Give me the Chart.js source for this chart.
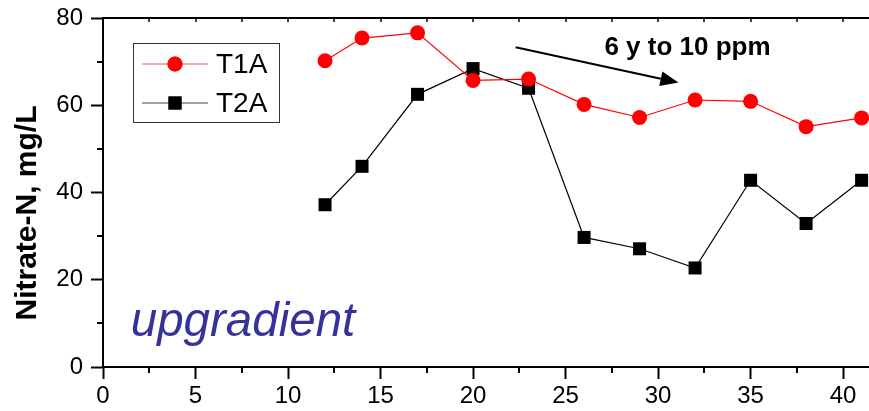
<!DOCTYPE html>
<html>
<head>
<meta charset="utf-8">
<script src="https://cdn.jsdelivr.net/npm/chart.js@4.4.0/dist/chart.umd.min.js"></script>
<style>
  html, body { margin: 0; padding: 0; background: #fff; overflow: hidden; }
  #wrap { width: 869px; height: 411px; position: relative; }
</style>
</head>
<body>
<div id="wrap"><canvas id="nitrateChart"></canvas></div>
<script>
// datos
const sampleX = [12, 14, 17, 20, 23, 26, 29, 32, 35, 38, 41];
const t1a = [70.2, 75.4, 76.6, 65.7, 66.0, 60.2, 57.2, 61.2, 60.9, 55.1, 57.1];
const t2a = [37.2, 46.0, 62.5, 68.4, 63.9, 29.7, 27.1, 22.7, 42.8, 32.9, 42.8];
const xTicks = [0, 5, 10, 15, 20, 25, 30, 35, 40];
const yTicks = [0, 20, 40, 60, 80];
const seriesNames = ['T1A', 'T2A'];
const yTitle = 'Nitrate-N, mg/L';
const arrowFrom = [22.3, 73.3];
const arrowTo = [31.1, 65.2];
const arrowLabel = '6 y to 10 ppm';
const arrowLabelAt = [27.1, 71.5];
const zoneLabel = 'upgradient';
const zoneLabelAt = [1.5, 7.0];

const FONT = 'Arial, "Liberation Sans", sans-serif';

// ejes extra: borde superior, ticks menores, leyenda y anotaciones
const extrasPlugin = {
  id: 'extras',
  afterDraw(chart) {
    const { ctx, chartArea: a, scales: { x, y } } = chart;
    ctx.save();
    ctx.strokeStyle = '#000';
    ctx.fillStyle = '#000';

    // borde superior
    ctx.lineWidth = 2;
    ctx.beginPath();
    ctx.moveTo(a.left - 1, a.top);
    ctx.lineTo(a.right + 2, a.top);
    ctx.stroke();

    // ticks menores eje x y ticks del borde superior
    ctx.lineWidth = 2;
    for (let v = 2.5; v <= 41; v += 5) {
      const px = Math.round(x.getPixelForValue(v));
      ctx.beginPath();
      ctx.moveTo(px, a.bottom);
      ctx.lineTo(px, a.bottom + 6);
      ctx.stroke();
    }
    ctx.lineWidth = 1.5;
    for (let v = 2.5; v <= 41; v += 2.5) {
      const px = Math.round(x.getPixelForValue(v));
      ctx.beginPath();
      ctx.moveTo(px, a.top);
      ctx.lineTo(px, a.top + 4);
      ctx.stroke();
    }
    // ticks menores eje y
    ctx.lineWidth = 2;
    for (let v = 10; v < 80; v += 20) {
      const py = Math.round(y.getPixelForValue(v));
      ctx.beginPath();
      ctx.moveTo(a.left, py);
      ctx.lineTo(a.left - 6, py);
      ctx.stroke();
    }

    // titulo eje y
    ctx.save();
    ctx.translate(28, 213);
    ctx.rotate(-Math.PI / 2);
    ctx.font = 'bold 30px ' + FONT;
    ctx.textAlign = 'center';
    ctx.textBaseline = 'middle';
    ctx.fillText(yTitle, 0, 0);
    ctx.restore();

    // leyenda
    ctx.lineWidth = 1;
    ctx.strokeStyle = '#333';
    ctx.strokeRect(133.5, 43.5, 146, 79);
    const rows = [
      { y: 64, color: '#ff0000', line: '#ff5555', style: 'circle', r: 7.5 },
      { y: 103, color: '#000000', line: '#444444', style: 'rect', r: 9.2 }
    ];
    rows.forEach((row, i) => {
      ctx.strokeStyle = row.line;
      ctx.lineWidth = 1;
      ctx.beginPath();
      ctx.moveTo(142, row.y);
      ctx.lineTo(208, row.y);
      ctx.stroke();
      ctx.fillStyle = row.color;
      Chart.helpers.drawPoint(ctx, { pointStyle: row.style, radius: row.r, borderWidth: 0, rotation: 0 }, 175, row.y);
      ctx.fill();
      ctx.fillStyle = '#000';
      ctx.font = '28px ' + FONT;
      ctx.textAlign = 'left';
      ctx.textBaseline = 'middle';
      ctx.fillText(seriesNames[i], 216, row.y + 1);
    });

    // flecha
    const x1 = x.getPixelForValue(arrowFrom[0]), y1 = y.getPixelForValue(arrowFrom[1]);
    const x2 = x.getPixelForValue(arrowTo[0]), y2 = y.getPixelForValue(arrowTo[1]);
    const ang = Math.atan2(y2 - y1, x2 - x1);
    const headLen = 18, headHalf = 7.5;
    const bx = x2 - headLen * Math.cos(ang), by = y2 - headLen * Math.sin(ang);
    ctx.strokeStyle = '#000';
    ctx.lineWidth = 2.2;
    ctx.beginPath();
    ctx.moveTo(x1, y1);
    ctx.lineTo(bx, by);
    ctx.stroke();
    ctx.fillStyle = '#000';
    ctx.beginPath();
    ctx.moveTo(x2, y2);
    ctx.lineTo(bx + headHalf * Math.sin(ang), by - headHalf * Math.cos(ang));
    ctx.lineTo(bx - headHalf * Math.sin(ang), by + headHalf * Math.cos(ang));
    ctx.closePath();
    ctx.fill();

    // textos
    ctx.textAlign = 'left';
    ctx.textBaseline = 'alphabetic';
    ctx.font = 'bold 26px ' + FONT;
    ctx.fillText(arrowLabel, x.getPixelForValue(arrowLabelAt[0]), y.getPixelForValue(arrowLabelAt[1]));
    ctx.fillStyle = '#333399';
    ctx.font = 'italic 47.5px ' + FONT;
    ctx.fillText(zoneLabel, x.getPixelForValue(zoneLabelAt[0]), y.getPixelForValue(zoneLabelAt[1]));

    ctx.restore();
  }
};

const ctx = document.getElementById('nitrateChart');
new Chart(ctx, {
  type: 'line',
  data: {
    datasets: [
      {
        label: seriesNames[0],
        data: sampleX.map((v, i) => ({ x: v, y: t1a[i] })),
        borderColor: '#ff0000',
        backgroundColor: '#ff0000',
        borderWidth: 1.2,
        pointStyle: 'circle',
        pointRadius: 7.5,
        pointBorderWidth: 0,
        tension: 0
      },
      {
        label: seriesNames[1],
        data: sampleX.map((v, i) => ({ x: v, y: t2a[i] })),
        borderColor: '#000000',
        backgroundColor: '#000000',
        borderWidth: 1.2,
        pointStyle: 'rect',
        pointRadius: 9.2,
        pointBorderWidth: 0,
        tension: 0
      }
    ]
  },
  options: {
    responsive: true,
    maintainAspectRatio: false,
    animation: false,
    clip: false,
    layout: { autoPadding: false, padding: { top: 18, right: 0, left: 0, bottom: 0 } },
    plugins: {
      legend: { display: false },
      tooltip: { enabled: false }
    },
    scales: {
      x: {
        type: 'linear',
        min: 0,
        max: 41.4,
        afterFit: s => { s.height = 44; s.paddingLeft = 0; s.paddingRight = 0; },
        afterBuildTicks: s => { s.ticks = xTicks.map(v => ({ value: v })); },
        border: { display: true, color: '#000', width: 2 },
        grid: { drawOnChartArea: false, drawTicks: true, tickLength: 12, tickWidth: 2, tickColor: '#000' },
        ticks: { color: '#000', font: { family: FONT, size: 24 }, padding: 3, maxRotation: 0 }
      },
      y: {
        min: 0,
        max: 80,
        afterFit: s => { s.width = 103; s.paddingTop = 0; s.paddingBottom = 0; },
        afterBuildTicks: s => { s.ticks = yTicks.map(v => ({ value: v })); },
        border: { display: true, color: '#000', width: 2 },
        grid: { drawOnChartArea: false, drawTicks: true, tickLength: 12, tickWidth: 2, tickColor: '#000' },
        ticks: { color: '#000', font: { family: FONT, size: 24 }, padding: 8 }
      }
    }
  },
  plugins: [extrasPlugin]
});
</script>
</body>
</html>
